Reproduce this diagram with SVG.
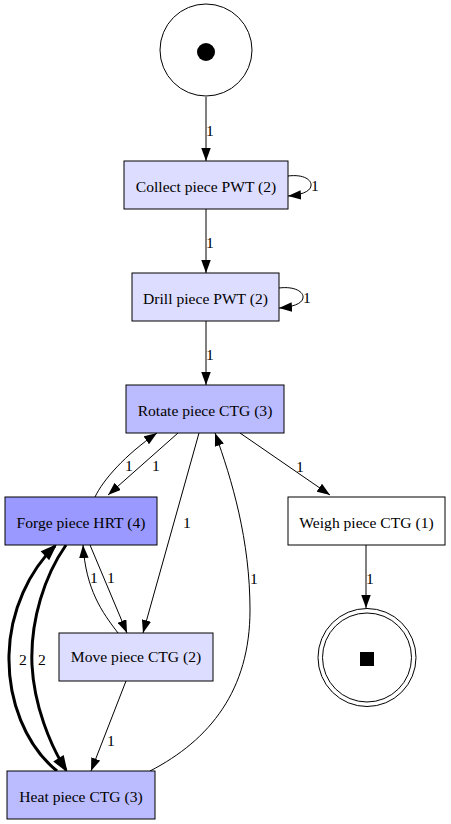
<svg xmlns="http://www.w3.org/2000/svg" width="451" height="824" viewBox="0 0 451 824">
<style>
.n{stroke:#000;stroke-width:1}
.t{font-family:"Liberation Serif","Times New Roman",serif;font-size:15.6px;fill:#000;text-anchor:middle}
.l{font-family:"Liberation Serif","Times New Roman",serif;font-size:15.6px;fill:#000;text-anchor:middle}
.e{fill:none;stroke:#000;stroke-width:1}
.e.th{stroke-width:3}
</style>
<defs>
<marker id="a" viewBox="0 0 13 9.5" refX="13" refY="4.75" markerWidth="13" markerHeight="9.5" markerUnits="userSpaceOnUse" orient="auto">
<path d="M0,0 L13,4.75 L0,9.5 z" fill="#000"/>
</marker>
<marker id="b" viewBox="-2 -2 17 13.5" refX="13" refY="4.75" markerWidth="17" markerHeight="13.5" markerUnits="userSpaceOnUse" orient="auto">
<path d="M0,0 L13,4.75 L0,9.5 z" fill="#000" stroke="#000" stroke-width="2" stroke-linejoin="miter"/>
</marker>
</defs>
<rect width="451" height="824" fill="#fff"/>
<g id="edges">
<path class="e" d="M206,97 L206,161" marker-end="url(#a)"/>
<text class="l" x="210" y="136">1</text>
<path class="e" d="M288,176 C304,174 312,180 311,186 C310,192 300,195 288,196" marker-end="url(#a)"/>
<text class="l" x="315" y="191">1</text>
<path class="e" d="M206,209 L206,273" marker-end="url(#a)"/>
<text class="l" x="210" y="248">1</text>
<path class="e" d="M279,288 C295,286 304,292 303,298 C302,304 292,307 279,308" marker-end="url(#a)"/>
<text class="l" x="307" y="303">1</text>
<path class="e" d="M206,321 L206,385" marker-end="url(#a)"/>
<text class="l" x="210" y="360">1</text>
<path class="e" d="M240,433 L330,495" marker-end="url(#a)"/>
<text class="l" x="300" y="472">1</text>
<path class="e" d="M178,433 L108,495" marker-end="url(#a)"/>
<text class="l" x="156" y="471">1</text>
<path class="e" d="M95,497 C103,480 125,455 157,433" marker-end="url(#a)"/>
<text class="l" x="129" y="471">1</text>
<path class="e" d="M199,433 L143,633" marker-end="url(#a)"/>
<text class="l" x="187" y="528">1</text>
<path class="e" d="M150,771 C210,740 250,690 250,610 C250,540 232,480 215,433" marker-end="url(#a)"/>
<text class="l" x="254" y="584">1</text>
<path class="e" d="M90,545 L127,633" marker-end="url(#a)"/>
<text class="l" x="111" y="583">1</text>
<path class="e" d="M118,633 C102,612 86,590 83,545" marker-end="url(#a)"/>
<text class="l" x="94" y="583">1</text>
<path class="e th" d="M57,771 C25,745 8,700 9,655 C10,610 30,570 55,546" marker-end="url(#b)"/>
<text class="l" x="23" y="665">2</text>
<path class="e th" d="M66,545 C45,575 30,620 32,665 C34,705 50,745 66,770" marker-end="url(#b)"/>
<text class="l" x="42" y="665">2</text>
<path class="e" d="M126,681 L91,771" marker-end="url(#a)"/>
<text class="l" x="111" y="746">1</text>
<path class="e" d="M366,545 L366,608" marker-end="url(#a)"/>
<text class="l" x="370" y="584">1</text>
</g>
<g id="start">
<circle class="n" cx="206" cy="50" r="46" fill="#fff"/>
<circle cx="206" cy="52" r="9" fill="#000"/>
</g>
<g id="collect">
<rect class="n" x="124" y="161" width="164" height="48" fill="#ddddff"/>
<text class="t" x="206" y="192">Collect piece PWT (2)</text>
</g>
<g id="drill">
<rect class="n" x="132" y="273" width="147" height="48" fill="#ddddff"/>
<text class="t" x="205.5" y="304">Drill piece PWT (2)</text>
</g>
<g id="rotate">
<rect class="n" x="126" y="385" width="158" height="48" fill="#bbbbff"/>
<text class="t" x="205" y="416">Rotate piece CTG (3)</text>
</g>
<g id="forge">
<rect class="n" x="5" y="497" width="152" height="48" fill="#9999ff"/>
<text class="t" x="81" y="528">Forge piece HRT (4)</text>
</g>
<g id="weigh">
<rect class="n" x="288" y="497" width="157" height="48" fill="#fff"/>
<text class="t" x="366.5" y="528">Weigh piece CTG (1)</text>
</g>
<g id="move">
<rect class="n" x="59" y="633" width="154" height="48" fill="#ddddff"/>
<text class="t" x="136" y="662">Move piece CTG (2)</text>
</g>
<g id="heat">
<rect class="n" x="7" y="771" width="148" height="48" fill="#bbbbff"/>
<text class="t" x="81" y="802">Heat piece CTG (3)</text>
</g>
<g id="end">
<circle class="n" cx="367" cy="657.5" r="49" fill="#fff"/>
<circle class="n" cx="367" cy="657.5" r="44.5" fill="none"/>
<rect x="360" y="652" width="14" height="14" fill="#000"/>
</g>
</svg>
